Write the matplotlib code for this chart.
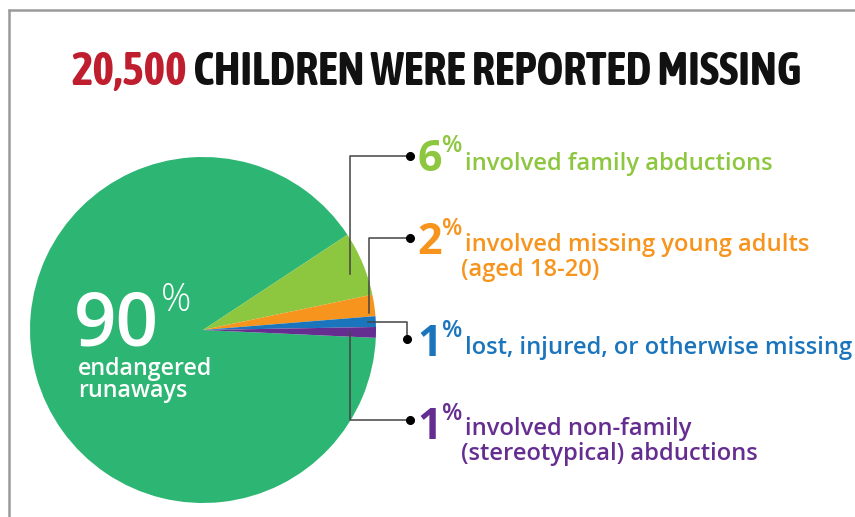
import matplotlib
matplotlib.use("Agg")
import matplotlib.pyplot as plt

# ---- data ----
categories = ["endangered runaways", "involved family abductions",
              "involved missing young adults\n(aged 18-20)",
              "lost, injured, or otherwise missing",
              "involved non-family\n(stereotypical) abductions"]
values = [90, 6, 2, 1, 1]
pct_labels = ["90", "6", "2", "1", "1"]
colors = ["#2db673", "#8dc63f", "#f7941d", "#1b75bc", "#662d91"]
title_num = "20,500"
title_rest = " CHILDREN WERE REPORTED MISSING"

W, H = 855, 517
fig = plt.figure(figsize=(W / 100, H / 100), dpi=100)
ax = fig.add_axes([0, 0, 1, 1])

def Y(y):
    return H - y

title_font = ["Asap Condensed", "Barlow Condensed", "Liberation Sans", "DejaVu Sans"]
lab_font = ["Open Sans", "DejaVu Sans"]
num_font = ["Open Sans", "DejaVu Sans"]

renderer = fig.canvas.get_renderer()

def fit(t, target):
    t.set_fontsize(t.get_fontsize() * target / t.get_window_extent(renderer).width)

# frame
ax.plot([8, W], [Y(9.5), Y(9.5)], color="#9a9a9a", lw=1.8, solid_capstyle="butt")
ax.plot([8.5, 8.5], [Y(9), 0], color="#9a9a9a", lw=1.8, solid_capstyle="butt")

# pie
cx, cy, r = 203, Y(330), 173
ax.pie(values, colors=colors, startangle=-2.6, counterclock=False,
       center=(cx, cy), radius=r, frame=True,
       wedgeprops=dict(linewidth=0))
ax.set_xlim(0, W)
ax.set_ylim(0, H)
ax.set_aspect("equal")
ax.axis("off")

# title (fit to reference width)
full = ax.text(71, Y(72), title_num + title_rest, fontsize=30, fontweight="bold",
               family=title_font, va="center", ha="left", alpha=0)
fit(full, 731)
tsize = full.get_fontsize()
full.remove()
t1 = ax.text(71, Y(72), title_num, color="#be1e2d", fontsize=tsize, fontweight="bold",
             family=title_font, va="center", ha="left")
x1 = t1.get_window_extent(renderer).x1
ax.text(x1, Y(72), title_rest, color="#111111", fontsize=tsize, fontweight="bold",
        family=title_font, va="center", ha="left")

# 90% label
n90 = ax.text(74, Y(345), pct_labels[0], color="white", fontsize=52, fontweight="semibold",
              family=num_font, va="baseline", ha="left")
fit(n90, 85)
ax.text(161, Y(311), "%", color="white", fontsize=27, fontweight="light",
        family=num_font, va="baseline", ha="left")
e1 = ax.text(78, Y(375), "endangered", color="white", fontsize=15, fontweight="semibold",
             family=num_font, va="baseline", ha="left")
fit(e1, 135)
ax.text(78, Y(397), "runaways", color="white", fontsize=e1.get_fontsize(),
        fontweight="semibold", family=num_font, va="baseline", ha="left")

# leader lines
lc = "#444444"
leaders = [
    [(350, 274), (350, 156), (410, 156)],
    [(369, 313), (369, 238), (410, 238)],
    [(368, 322), (407, 322), (407, 339)],
    [(350, 332), (350, 420), (410, 420)],
]
for pts in leaders:
    xs = [p[0] for p in pts]
    ys = [Y(p[1]) for p in pts]
    ax.plot(xs, ys, color=lc, lw=1.1)
    ax.plot(xs[-1], ys[-1], "o", color="black", ms=5.5)

# label font size from the widest single line
probe = ax.text(0, 0, categories[3], fontsize=16, fontweight="semibold", family=lab_font)
fit(probe, 388)
lsize = probe.get_fontsize()
probe.remove()

rows = [
    (1, 171, [170]),
    (2, 254, [251, 276]),
    (3, 356, [354]),
    (4, 439, [435, 460]),
]
for idx, base, lines in rows:
    c = colors[idx]
    d = ax.text(417, Y(base), pct_labels[idx], color=c, fontsize=31, fontweight="bold",
                family=num_font, va="baseline", ha="left")
    b = d.get_window_extent(renderer)
    ax.text(b.x1, Y(base - 19), "%", color=c, fontsize=17, fontweight="semibold",
            family=num_font, va="baseline", ha="left")
    txt = categories[idx].split("\n")
    for k, (s, yb) in enumerate(zip(txt, lines)):
        ax.text(465 if k == 0 else 461, Y(yb), s, color=c, fontsize=lsize,
                fontweight="semibold", family=lab_font, va="baseline", ha="left")

fig.savefig("out.png", dpi=100)
